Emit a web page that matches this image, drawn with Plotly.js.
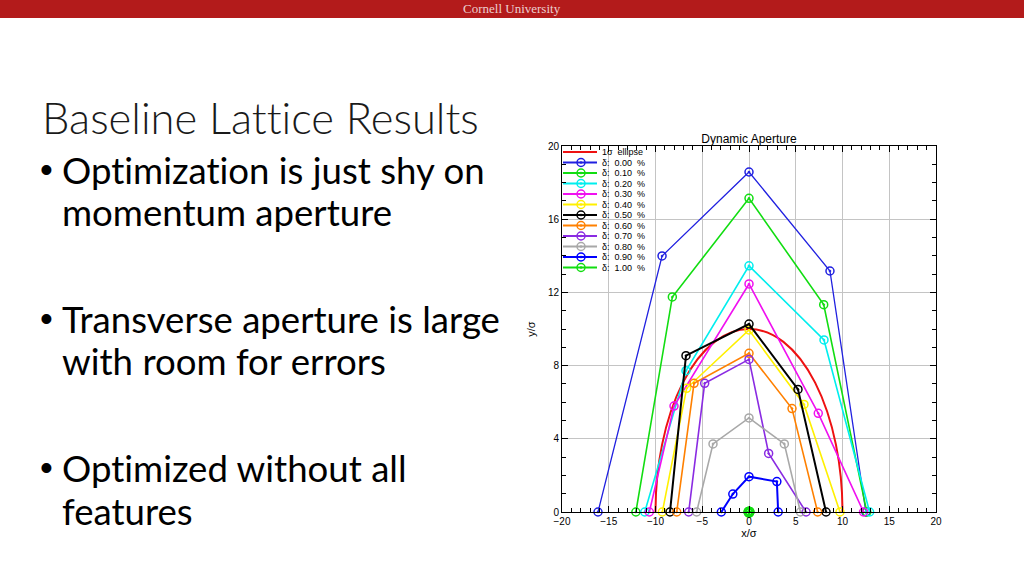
<!DOCTYPE html>
<html>
<head>
<meta charset="utf-8">
<script src="https://cdn.plot.ly/plotly-3.0.1.min.js"></script>
<style>
html,body{margin:0;padding:0;background:#ffffff;}
#chart{width:1024px;height:576px;}
text{font-variant-ligatures:none;font-feature-settings:"liga" 0,"clig" 0;}
</style>
</head>
<body>
<div id="chart"></div>
<script>
// ---------------- data ----------------
const seriesLabels = ['0.00', '0.10', '0.20', '0.30', '0.40', '0.50', '0.60', '0.70', '0.80', '0.90', '1.00'];
const seriesColors = ['#2020E0', '#11DD11', '#00EEEE', '#F010F0', '#FFF000', '#000000', '#FF8000', '#8A2BE2', '#A8A8A8', '#0000FF', '#11DD11'];

const x000 = [-16.15, -9.3, 0, 8.66, 12.5];
const y000 = [0, 13.99, 18.58, 13.17, 0];
const x010 = [-12.1, -8.2, 0, 7.99, 12.6];
const y010 = [0, 11.75, 17.14, 11.33, 0];
const x020 = [-11.15, -6.74, 0, 8.02, 12.9];
const y020 = [0, 7.72, 13.45, 9.4, 0];
const x030 = [-10.66, -8.02, 0, 7.41, 12.25];
const y030 = [0, 5.79, 12.46, 5.39, 0];
const x040 = [-9.27, -6.67, 0, 5.88, 9.73];
const y040 = [0, 6.76, 9.95, 5.88, 0];
const x050 = [-8.45, -6.74, 0, 5.24, 8.24];
const y050 = [0, 8.54, 10.27, 6.70, 0];
const x060 = [-7.73, -5.88, 0, 4.6, 7.34];
const y060 = [0, 7.03, 8.67, 5.65, 0];
const x070 = [-6.45, -4.74, 0, 2.1, 6.1];
const y070 = [0, 7.03, 8.34, 3.2, 0];
const x080 = [-5.6, -3.85, 0, 3.78, 5.5];
const y080 = [0, 3.72, 5.14, 3.72, 0];
const x090 = [-2.96, -1.73, 0, 2.98, 3.12];
const y090 = [0, 0.98, 1.93, 1.66, 0];
const x100 = [0, 0, 0];
const y100 = [0, 0, 0];

const seriesX = [x000, x010, x020, x030, x040, x050, x060, x070, x080, x090, x100];
const seriesY = [y000, y010, y020, y030, y040, y050, y060, y070, y080, y090, y100];

// 1-sigma ellipse bounds (x/sigma, y/sigma)
const ellipseX = [-10, 10];
const ellipseY = [-10, 10];

const xRange = [-20, 20];
const yRange = [0, 20];

const slideTitle = 'Baseline Lattice Results';
const bulletLines = [
  ['Optimization is just shy on', 'momentum aperture'],
  ['Transverse aperture is large', 'with room for errors'],
  ['Optimized without all', 'features']
];
const headerText = 'Cornell University';

// ---------------- layout geometry ----------------
const W = 1024, H = 576;
const PL = 562, PR = 936, PT = 146, PB = 512;
const PW = PR - PL, PH = PB - PT;
const pxX = v => (v - PL) / PW;
const pxY = v => (PB - v) / PH;

function fitSize(text, family, weight, targetW) {
  const c = document.createElement('canvas').getContext('2d');
  c.font = weight + ' 100px ' + family;
  return 100 * targetW / c.measureText(text).width;
}

const BODY_FONT = 'Lato, "Open Sans", sans-serif';
const titleSize = fitSize(slideTitle, 'Lato', '300', 436);
const bodySize = fitSize(bulletLines[1][0], 'Lato', '400', 438);
const ASC = 0.987, DESC = 0.213;
const centerFromBase = (base, s) => base - (ASC - DESC) / 2 * s;

const tickFont = {family: '"Liberation Sans", Arial, sans-serif', size: 10, color: '#000'};

// ---------------- traces ----------------
const traces = [];
for (let i = 0; i < seriesLabels.length; i++) {
  const w = (i === 0) ? 1.3 : (i === 9 || i === 5 ? 2 : 1.6);
  traces.push({
    type: 'scatter', mode: 'lines+markers',
    x: seriesX[i], y: seriesY[i],
    xaxis: 'x', yaxis: 'y',
    line: {color: seriesColors[i], width: w},
    marker: {symbol: 'circle-open-dot', size: 8, color: seriesColors[i], line: {color: seriesColors[i], width: (i === 10 ? 3 : 1.5)}},
    cliponaxis: false, showlegend: false, hoverinfo: 'skip'
  });
}

// ---------------- custom legend (on an overlay axis in pixel offsets) ----------------
const rowH = 10.5, row0 = 152;
const legLabels = ['1\u03C3\u00A0\u00A0ellipse'].concat(seriesLabels.map(l => '\u03B4:\u00A0\u00A0' + l + '\u00A0\u00A0%'));
const legColors = ['#EE1111'].concat(seriesColors);
const annotations = [];
for (let r = 0; r < legLabels.length; r++) {
  traces.push({
    type: 'scatter', mode: 'lines', x: [1, 35], y: [r, r], xaxis: 'x2', yaxis: 'y2',
    line: {color: legColors[r], width: 2}, showlegend: false, hoverinfo: 'skip', cliponaxis: false
  });
  if (r > 0) {
    traces.push({
      type: 'scatter', mode: 'markers', x: [19], y: [r], xaxis: 'x2', yaxis: 'y2',
      marker: {symbol: 'circle-open-dot', size: 8, color: legColors[r], line: {color: legColors[r], width: 1.5}},
      showlegend: false, hoverinfo: 'skip', cliponaxis: false
    });
  }
  annotations.push({
    xref: 'x2', yref: 'y2', x: 38, y: r, xanchor: 'left', yanchor: 'middle',
    text: legLabels[r], showarrow: false,
    font: {family: '"Liberation Sans", Arial, sans-serif', size: 9, color: '#000'}
  });
}

// ---------------- slide text ----------------
annotations.push({
  xref: 'paper', yref: 'paper', x: pxX(512), y: pxY(9), xanchor: 'center', yanchor: 'middle',
  text: headerText, showarrow: false,
  font: {family: '"Liberation Serif", "DejaVu Serif", serif', size: 13, color: '#EBCFCF'}
});
annotations.push({
  xref: 'paper', yref: 'paper', x: pxX(40), y: pxY(centerFromBase(134, titleSize)), xanchor: 'left', yanchor: 'middle',
  text: slideTitle, showarrow: false,
  font: {family: BODY_FONT, size: titleSize, color: '#1a1a1a', weight: 300}
});
const bases = [[184, 226], [333, 375], [482, 525]];
for (let b = 0; b < bulletLines.length; b++) {
  for (let l = 0; l < bulletLines[b].length; l++) {
    const yc = pxY(centerFromBase(bases[b][l], bodySize));
    annotations.push({
      xref: 'paper', yref: 'paper', x: pxX(60), y: yc, xanchor: 'left', yanchor: 'middle',
      text: bulletLines[b][l], showarrow: false,
      font: {family: BODY_FONT, size: bodySize, color: '#000'}
    });
    if (l === 0) {
      annotations.push({
        xref: 'paper', yref: 'paper', x: pxX(46.5), y: yc, xanchor: 'center', yanchor: 'middle',
        text: '\u2022', showarrow: false,
        font: {family: '"Liberation Sans", Arial, sans-serif', size: bodySize, color: '#000'}
      });
    }
  }
}

const shapes = [
  {type: 'rect', xref: 'paper', yref: 'paper', x0: pxX(0), x1: pxX(W), y0: pxY(18), y1: pxY(0),
   fillcolor: '#B31B1B', line: {width: 0}, layer: 'above'},
  {type: 'circle', xref: 'x', yref: 'y', x0: ellipseX[0], x1: ellipseX[1], y0: ellipseY[0], y1: ellipseY[1],
   line: {color: '#EE1111', width: 2}, layer: 'between'}
];

const layout = {
  width: W, height: H,
  margin: {l: PL, r: W - PR, t: PT, b: H - PB, pad: 0},
  paper_bgcolor: '#ffffff', plot_bgcolor: '#ffffff',
  showlegend: false,
  title: {
    text: 'Dynamic Aperture', xref: 'paper', x: 0.5, xanchor: 'center',
    yref: 'container', y: 1 - 139 / H, yanchor: 'middle',
    font: {family: '"Liberation Sans", Arial, sans-serif', size: 12, color: '#000'}
  },
  xaxis: {
    range: xRange, tickmode: 'linear', tick0: 0, dtick: 5,
    ticks: 'inside', ticklen: 6, tickcolor: '#000', tickwidth: 1,
    showline: true, linecolor: '#000', linewidth: 1, mirror: 'ticks',
    showgrid: true, gridcolor: '#C4C4C4', gridwidth: 1, zeroline: false,
    minor: {tickmode: 'linear', dtick: 1, ticks: 'inside', ticklen: 4, tickcolor: '#000', showgrid: false},
    tickfont: tickFont,
    title: {text: 'x/\u03C3', font: {family: '"Liberation Sans", Arial, sans-serif', size: 11, color: '#000'}, standoff: 3},
    fixedrange: true
  },
  yaxis: {
    range: yRange, tickmode: 'linear', tick0: 0, dtick: 4,
    ticks: 'inside', ticklen: 6, tickcolor: '#000', tickwidth: 1,
    showline: true, linecolor: '#000', linewidth: 1, mirror: 'ticks',
    showgrid: true, gridcolor: '#C4C4C4', gridwidth: 1, zeroline: false,
    minor: {tickmode: 'linear', dtick: 1, ticks: 'inside', ticklen: 4, tickcolor: '#000', showgrid: false},
    tickfont: tickFont,
    title: {text: 'y/\u03C3', font: {family: '"Liberation Sans", Arial, sans-serif', size: 11, color: '#000'}, standoff: 10},
    fixedrange: true
  },
  xaxis2: {overlaying: 'x', anchor: 'y2', range: [0, PW], visible: false, fixedrange: true},
  yaxis2: {overlaying: 'y', anchor: 'x2', range: [(PB - row0) / rowH, (PT - row0) / rowH], visible: false, fixedrange: true},
  annotations: annotations,
  shapes: shapes
};

Plotly.newPlot('chart', traces, layout, {displayModeBar: false, staticPlot: true});
</script>
</body>
</html>
